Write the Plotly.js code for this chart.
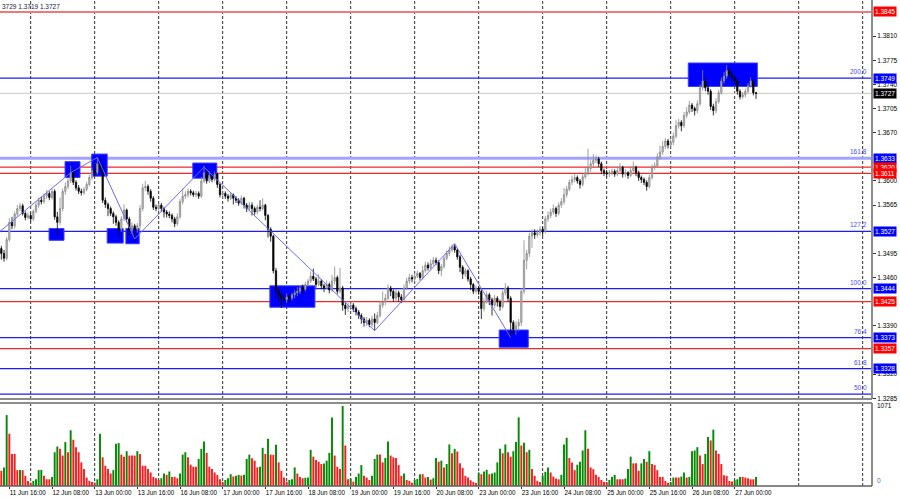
<!DOCTYPE html>
<html><head><meta charset="utf-8">
<script src="https://cdn.plot.ly/plotly-3.0.1.min.js"></script>
<style>html,body{margin:0;padding:0;background:#fff}#chart{width:900px;height:500px}</style>
</head><body><div id="chart"></div>
<script>
// ---- data (hourly bars, index 0 = 11 Jun 13:00) ----
const opens = [1.3502,1.3495,1.3488,1.3515,1.3540,1.3535,1.3552,1.3560,1.3564,1.3553,1.3547,1.3550,
1.3545,1.3556,1.3565,1.3572,1.3570,1.3578,1.3582,1.3576,1.3585,1.3548,1.3540,1.3560,
1.3585,1.3592,1.3600,1.3612,1.3598,1.3590,1.3585,1.3583,1.3588,1.3595,1.3605,1.3615,
1.3612,1.3625,1.3620,1.3572,1.3566,1.3560,1.3553,1.3548,1.3540,1.3530,1.3545,1.3558,
1.3545,1.3528,1.3535,1.3530,1.3535,1.3560,1.3590,1.3592,1.3585,1.3575,1.3562,1.3560,
1.3565,1.3560,1.3555,1.3552,1.3550,1.3545,1.3538,1.3548,1.3570,1.3578,1.3580,1.3585,
1.3583,1.3580,1.3582,1.3578,1.3600,1.3612,1.3600,1.3608,1.3602,1.3610,1.3595,1.3580,
1.3582,1.3578,1.3575,1.3580,1.3575,1.3572,1.3568,1.3575,1.3565,1.3560,1.3565,1.3560,
1.3555,1.3562,1.3560,1.3565,1.3550,1.3530,1.3520,1.3470,1.3440,1.3435,1.3430,1.3428,
1.3432,1.3430,1.3435,1.3438,1.3440,1.3445,1.3443,1.3450,1.3455,1.3462,1.3458,1.3450,
1.3455,1.3448,1.3445,1.3450,1.3442,1.3455,1.3460,1.3440,1.3445,1.3420,1.3415,1.3418,
1.3420,1.3415,1.3410,1.3405,1.3400,1.3395,1.3398,1.3392,1.3400,1.3395,1.3405,1.3420,
1.3425,1.3430,1.3445,1.3440,1.3430,1.3438,1.3432,1.3428,1.3445,1.3455,1.3460,1.3458,
1.3462,1.3466,1.3460,1.3470,1.3478,1.3474,1.3480,1.3485,1.3482,1.3470,1.3476,1.3488,
1.3495,1.3500,1.3505,1.3500,1.3490,1.3475,1.3465,1.3470,1.3458,1.3450,1.3440,1.3445,
1.3440,1.3415,1.3425,1.3435,1.3428,1.3420,1.3430,1.3425,1.3418,1.3438,1.3445,1.3430,
1.3395,1.3385,1.3390,1.3395,1.3440,1.3485,1.3495,1.3520,1.3525,1.3522,1.3525,1.3530,
1.3527,1.3545,1.3550,1.3555,1.3560,1.3553,1.3565,1.3570,1.3580,1.3588,1.3598,1.3602,
1.3605,1.3600,1.3595,1.3606,1.3612,1.3618,1.3625,1.3630,1.3632,1.3625,1.3615,1.3612,
1.3610,1.3612,1.3614,1.3610,1.3615,1.3620,1.3610,1.3612,1.3608,1.3615,1.3620,1.3612,
1.3605,1.3602,1.3598,1.3592,1.3605,1.3620,1.3622,1.3635,1.3642,1.3650,1.3658,1.3652,
1.3656,1.3665,1.3680,1.3685,1.3680,1.3695,1.3700,1.3710,1.3705,1.3702,1.3712,1.3735,
1.3745,1.3735,1.3730,1.3708,1.3702,1.3715,1.3728,1.3745,1.3752,1.3760,1.3755,1.3750,
1.3745,1.3730,1.3722,1.3725,1.3730,1.3738,1.3745,1.3728];
const highs = [1.3506,1.3500,1.3519,1.3546,1.3548,1.3556,1.3565,1.3568,1.3567,1.3556,1.3554,1.3553,
1.3559,1.3569,1.3576,1.3577,1.3582,1.3587,1.3585,1.3589,1.3588,1.3555,1.3576,1.3589,
1.3598,1.3605,1.3622,1.3615,1.3601,1.3594,1.3589,1.3591,1.3599,1.3609,1.3619,1.3625,
1.3634,1.3634,1.3624,1.3576,1.3569,1.3563,1.3556,1.3551,1.3543,1.3549,1.3566,1.3560,
1.3548,1.3540,1.3538,1.3539,1.3565,1.3596,1.3600,1.3595,1.3588,1.3578,1.3566,1.3568,
1.3568,1.3563,1.3558,1.3556,1.3553,1.3548,1.3553,1.3574,1.3589,1.3585,1.3589,1.3588,
1.3586,1.3586,1.3585,1.3606,1.3622,1.3615,1.3614,1.3611,1.3614,1.3612,1.3597,1.3586,
1.3585,1.3581,1.3584,1.3582,1.3578,1.3575,1.3579,1.3577,1.3568,1.3570,1.3569,1.3563,
1.3566,1.3572,1.3575,1.3567,1.3552,1.3533,1.3522,1.3474,1.3444,1.3438,1.3434,1.3437,
1.3435,1.3438,1.3442,1.3446,1.3449,1.3450,1.3454,1.3458,1.3469,1.3473,1.3461,1.3465,
1.3458,1.3451,1.3456,1.3453,1.3464,1.3476,1.3463,1.3474,1.3448,1.3424,1.3423,1.3425,
1.3423,1.3418,1.3413,1.3408,1.3403,1.3403,1.3401,1.3405,1.3408,1.3410,1.3426,1.3440,
1.3436,1.3450,1.3448,1.3443,1.3443,1.3441,1.3436,1.3450,1.3460,1.3465,1.3464,1.3467,
1.3470,1.3468,1.3477,1.3483,1.3482,1.3486,1.3490,1.3489,1.3485,1.3480,1.3492,1.3499,
1.3505,1.3508,1.3509,1.3503,1.3493,1.3478,1.3474,1.3472,1.3461,1.3452,1.3449,1.3447,
1.3443,1.3430,1.3440,1.3438,1.3431,1.3435,1.3433,1.3428,1.3442,1.3452,1.3448,1.3433,
1.3398,1.3397,1.3400,1.3445,1.3514,1.3500,1.3525,1.3530,1.3530,1.3530,1.3534,1.3533,
1.3549,1.3556,1.3560,1.3566,1.3563,1.3569,1.3575,1.3590,1.3593,1.3602,1.3608,1.3610,
1.3608,1.3603,1.3610,1.3620,1.3647,1.3630,1.3639,1.3637,1.3635,1.3628,1.3618,1.3616,
1.3616,1.3618,1.3617,1.3620,1.3626,1.3622,1.3617,1.3614,1.3619,1.3628,1.3622,1.3615,
1.3608,1.3605,1.3601,1.3609,1.3624,1.3627,1.3640,1.3651,1.3658,1.3662,1.3661,1.3660,
1.3670,1.3688,1.3690,1.3688,1.3700,1.3707,1.3716,1.3713,1.3708,1.3717,1.3740,1.3761,
1.3750,1.3739,1.3733,1.3712,1.3720,1.3732,1.3750,1.3758,1.3768,1.3764,1.3759,1.3753,
1.3748,1.3733,1.3729,1.3734,1.3742,1.3750,1.3747,1.3729];
const lows = [1.3486,1.3483,1.3485,1.3512,1.3530,1.3531,1.3548,1.3556,1.3550,1.3543,1.3544,1.3541,
1.3542,1.3553,1.3561,1.3566,1.3567,1.3574,1.3572,1.3573,1.3544,1.3521,1.3536,1.3556,
1.3580,1.3588,1.3597,1.3594,1.3586,1.3581,1.3579,1.3580,1.3585,1.3592,1.3601,1.3607,
1.3609,1.3614,1.3568,1.3561,1.3549,1.3549,1.3538,1.3535,1.3518,1.3526,1.3542,1.3540,
1.3520,1.3523,1.3513,1.3525,1.3531,1.3556,1.3585,1.3580,1.3570,1.3558,1.3556,1.3557,
1.3555,1.3547,1.3547,1.3546,1.3540,1.3533,1.3535,1.3545,1.3566,1.3574,1.3576,1.3579,
1.3577,1.3576,1.3574,1.3575,1.3597,1.3596,1.3597,1.3598,1.3599,1.3590,1.3576,1.3575,
1.3574,1.3570,1.3572,1.3566,1.3568,1.3564,1.3565,1.3560,1.3555,1.3557,1.3550,1.3551,
1.3552,1.3556,1.3557,1.3543,1.3518,1.3512,1.3466,1.3431,1.3425,1.3416,1.3422,1.3423,
1.3424,1.3427,1.3430,1.3433,1.3436,1.3436,1.3440,1.3447,1.3452,1.3455,1.3445,1.3447,
1.3443,1.3439,1.3442,1.3437,1.3439,1.3450,1.3436,1.3437,1.3412,1.3406,1.3410,1.3413,
1.3410,1.3405,1.3400,1.3393,1.3389,1.3390,1.3388,1.3388,1.3383,1.3392,1.3402,1.3416,
1.3420,1.3427,1.3433,1.3425,1.3426,1.3425,1.3423,1.3425,1.3442,1.3451,1.3453,1.3454,
1.3459,1.3456,1.3457,1.3467,1.3470,1.3471,1.3477,1.3478,1.3465,1.3462,1.3473,1.3485,
1.3491,1.3497,1.3496,1.3486,1.3468,1.3458,1.3461,1.3454,1.3442,1.3436,1.3437,1.3435,
1.3400,1.3411,1.3422,1.3420,1.3405,1.3416,1.3418,1.3412,1.3415,1.3434,1.3425,1.3373,
1.3377,1.3377,1.3382,1.3390,1.3436,1.3472,1.3490,1.3503,1.3516,1.3518,1.3521,1.3520,
1.3524,1.3541,1.3546,1.3551,1.3548,1.3550,1.3561,1.3566,1.3576,1.3585,1.3594,1.3598,
1.3596,1.3589,1.3592,1.3603,1.3608,1.3613,1.3621,1.3626,1.3620,1.3610,1.3607,1.3606,
1.3606,1.3608,1.3606,1.3607,1.3612,1.3605,1.3606,1.3603,1.3605,1.3612,1.3607,1.3600,
1.3597,1.3594,1.3586,1.3589,1.3602,1.3616,1.3619,1.3631,1.3638,1.3646,1.3647,1.3648,
1.3652,1.3662,1.3676,1.3672,1.3677,1.3691,1.3697,1.3700,1.3695,1.3698,1.3709,1.3731,
1.3730,1.3725,1.3703,1.3695,1.3698,1.3712,1.3725,1.3741,1.3748,1.3750,1.3745,1.3740,
1.3725,1.3718,1.3719,1.3721,1.3727,1.3735,1.3724,1.3719];
const closes = [1.3495,1.3488,1.3515,1.3540,1.3535,1.3552,1.3560,1.3564,1.3553,1.3547,1.3550,1.3545,
1.3556,1.3565,1.3572,1.3570,1.3578,1.3582,1.3576,1.3585,1.3548,1.3540,1.3560,1.3585,
1.3592,1.3600,1.3612,1.3598,1.3590,1.3585,1.3583,1.3588,1.3595,1.3605,1.3615,1.3612,
1.3625,1.3620,1.3572,1.3566,1.3560,1.3553,1.3548,1.3540,1.3530,1.3545,1.3558,1.3545,
1.3528,1.3535,1.3530,1.3535,1.3560,1.3590,1.3592,1.3585,1.3575,1.3562,1.3560,1.3565,
1.3560,1.3555,1.3552,1.3550,1.3545,1.3538,1.3548,1.3570,1.3578,1.3580,1.3585,1.3583,
1.3580,1.3582,1.3578,1.3600,1.3612,1.3600,1.3608,1.3602,1.3610,1.3595,1.3580,1.3582,
1.3578,1.3575,1.3580,1.3575,1.3572,1.3568,1.3575,1.3565,1.3560,1.3565,1.3560,1.3555,
1.3562,1.3560,1.3565,1.3550,1.3530,1.3520,1.3470,1.3440,1.3435,1.3430,1.3428,1.3432,
1.3430,1.3435,1.3438,1.3440,1.3445,1.3443,1.3450,1.3455,1.3462,1.3458,1.3450,1.3455,
1.3448,1.3445,1.3450,1.3442,1.3455,1.3460,1.3440,1.3445,1.3420,1.3415,1.3418,1.3420,
1.3415,1.3410,1.3405,1.3400,1.3395,1.3398,1.3392,1.3400,1.3395,1.3405,1.3420,1.3425,
1.3430,1.3445,1.3440,1.3430,1.3438,1.3432,1.3428,1.3445,1.3455,1.3460,1.3458,1.3462,
1.3466,1.3460,1.3470,1.3478,1.3474,1.3480,1.3485,1.3482,1.3470,1.3476,1.3488,1.3495,
1.3500,1.3505,1.3500,1.3490,1.3475,1.3465,1.3470,1.3458,1.3450,1.3440,1.3445,1.3440,
1.3415,1.3425,1.3435,1.3428,1.3420,1.3430,1.3425,1.3418,1.3438,1.3445,1.3430,1.3395,
1.3385,1.3390,1.3395,1.3440,1.3485,1.3495,1.3520,1.3525,1.3522,1.3525,1.3530,1.3527,
1.3545,1.3550,1.3555,1.3560,1.3553,1.3565,1.3570,1.3580,1.3588,1.3598,1.3602,1.3605,
1.3600,1.3595,1.3606,1.3612,1.3618,1.3625,1.3630,1.3632,1.3625,1.3615,1.3612,1.3610,
1.3612,1.3614,1.3610,1.3615,1.3620,1.3610,1.3612,1.3608,1.3615,1.3620,1.3612,1.3605,
1.3602,1.3598,1.3592,1.3605,1.3620,1.3622,1.3635,1.3642,1.3650,1.3658,1.3652,1.3656,
1.3665,1.3680,1.3685,1.3680,1.3695,1.3700,1.3710,1.3705,1.3702,1.3712,1.3735,1.3745,
1.3735,1.3730,1.3708,1.3702,1.3715,1.3728,1.3745,1.3752,1.3760,1.3755,1.3750,1.3745,
1.3730,1.3722,1.3725,1.3730,1.3738,1.3745,1.3728,1.3727];
const volumes = [203,249,949,700,429,429,212,215,212,136,68,45,
68,90,212,215,136,90,90,122,452,529,497,407,
588,452,746,619,520,452,316,226,113,68,54,45,
90,700,384,271,226,167,212,565,574,420,393,466,
407,407,407,466,429,271,271,226,181,122,104,81,
104,167,149,194,122,122,104,167,420,452,384,285,
258,258,362,497,597,443,258,226,181,149,90,54,
81,104,158,127,136,149,140,150,362,420,371,339,
249,258,511,429,633,420,416,551,316,203,113,59,
81,90,249,167,122,104,110,113,484,393,348,325,
294,300,339,443,918,407,258,226,1071,542,90,99,
59,122,167,280,136,113,81,136,362,420,420,316,
375,597,407,384,375,280,136,167,81,68,45,77,
95,158,158,113,122,86,104,375,325,339,249,294,
556,438,497,461,303,240,136,113,77,54,41,181,
158,194,217,158,167,181,316,497,438,556,452,393,
466,588,918,542,579,452,484,226,136,68,54,136,
190,249,181,127,99,90,149,556,646,375,316,212,
285,325,475,746,497,249,226,149,122,81,54,54,
81,122,149,90,90,90,99,226,393,303,303,203,
303,362,325,466,294,280,212,122,122,68,45,54,
113,113,113,127,181,113,122,466,475,520,407,294,
429,655,610,755,475,429,294,145,136,68,59,77,
90,122,122,113,104,90,90,122];

// time axis labels (every 16 bars) and day separators (00:00 bars)
const tickIdx  = [3,19,35,51,67,83,99,115,131,147,163,179,195,211,227,243,259,275];
const tickText = ['11 Jun 16:00','12 Jun 08:00','13 Jun 00:00','13 Jun 16:00','16 Jun 08:00','17 Jun 00:00',
 '17 Jun 16:00','18 Jun 08:00','19 Jun 00:00','19 Jun 16:00','20 Jun 08:00','23 Jun 00:00','23 Jun 16:00',
 '24 Jun 08:00','25 Jun 00:00','25 Jun 16:00','26 Jun 08:00','27 Jun 00:00'];
const dayIdx = [11,35,59,83,107,131,155,179,203,227,251,275,299,323];
const priceTicks = [1.3810,1.3775,1.3740,1.3705,1.3670,1.3600,1.3565,1.3495,1.3460,1.3390,1.3320,1.3285];

// Fibonacci levels, support/resistance levels, current price
const fibPrices = [1.3749,1.3633,1.3527,1.3444,1.3373,1.3328,1.3291];
const fibLabels = ['200.0','161.8','127.2','100.0','76.4','61.8','50.0'];
const redPrices = [1.3845,1.3620,1.3611,1.3425,1.3357];
const lastPrice = 1.3727;

// zigzag pivots
const zzIdx   = [-0.5,26,36,50,76,140,170,191];
const zzPrice = [1.3527,1.3612,1.3634,1.3516,1.3620,1.3383,1.3509,1.3373];

// highlighted zones (bar index span, price span)
const zoneX0 = [23.9,33.9,71.8,17.9,39.7,46.7,100.7,186.7,257.6];
const zoneX1 = [29.5,39.7,80.8,23.5,45.7,51.7,117.6,197.6,283.5];
const zoneHi = [1.3628,1.3639,1.3626,1.3531,1.3531,1.3531,1.3448,1.3384,1.3771];
const zoneLo = [1.3605,1.3607,1.3604,1.3514,1.3510,1.3509,1.3417,1.3359,1.3737];

// ---- build ----
const idx = closes.map((_, i) => i);
const volColors = volumes.map((v, i) => (i > 0 && v > volumes[i-1]) ? '#008a00' : '#ff1a1a');
const FONT = 'Liberation Sans, Arial, sans-serif';
const fmt = p => p.toFixed(4);
const mainBottom = (486-399)/486, volTop = (486-403)/486;

const traces = [
  {type:'candlestick', x: idx, open: opens, high: highs, low: lows, close: closes,
   xaxis:'x', yaxis:'y', whiskerwidth: 0, hoverinfo:'skip',
   increasing:{line:{color:'#8a8a8a', width:0.8}, fillcolor:'#c4c4c4'},
   decreasing:{line:{color:'#000000', width:0.8}, fillcolor:'#000000'}},
  {type:'scatter', mode:'lines', x: zzIdx, y: zzPrice, xaxis:'x', yaxis:'y',
   line:{color:'#6b6bff', width:1}, hoverinfo:'skip'},
  {type:'bar', x: idx, y: volumes, xaxis:'x', yaxis:'y2', width: 0.72,
   marker:{color: volColors, line:{width:0}}, hoverinfo:'skip'}
];

const shapes = [];
dayIdx.forEach(d => {
  shapes.push({type:'line', layer:'below', xref:'x', yref:'paper', x0:d, x1:d, y0:mainBottom, y1:1,
    line:{color:'#303030', width:1, dash:'3px,2px'}});
  shapes.push({type:'line', layer:'below', xref:'x', yref:'paper', x0:d, x1:d, y0:0, y1:volTop,
    line:{color:'#303030', width:1, dash:'3px,2px'}});
});
zoneX0.forEach((x0, k) => {
  shapes.push({type:'rect', layer:'below', xref:'x', yref:'y', x0:x0, x1:zoneX1[k], y0:zoneLo[k], y1:zoneHi[k],
    fillcolor:'#0000ff', line:{color:'#3a3aff', width:1}});
});
fibPrices.forEach((p, k) => {
  const thick = fibLabels[k] === '161.8';
  shapes.push({type:'line', layer:'below', xref:'paper', yref:'y', x0:0, x1:1, y0:p, y1:p,
    line:{color: thick ? '#a3a3ff' : '#1c1cff', width: thick ? 3 : 1.2}});
});
redPrices.forEach((p, k) => {
  shapes.push({type:'line', layer:'below', xref:'paper', yref:'y', x0:0, x1:1, y0:p, y1:p,
    line:{color: k === 0 ? '#f07a7a' : '#f02828', width: k === 0 ? 2 : 1.2}});
});
shapes.push({type:'line', layer:'below', xref:'paper', yref:'y', x0:0, x1:1, y0:lastPrice, y1:lastPrice,
  line:{color:'#c8c8c8', width:1}});
// panel frames
const frame = '#8c8c8c';
shapes.push({type:'line', xref:'paper', yref:'paper', x0:1, x1:1, y0:mainBottom, y1:1, line:{color:frame, width:2}});
shapes.push({type:'line', xref:'paper', yref:'paper', x0:0, x1:1, y0:mainBottom, y1:mainBottom, line:{color:frame, width:2}});
shapes.push({type:'line', xref:'paper', yref:'paper', x0:0, x1:1, y0:volTop, y1:volTop, line:{color:frame, width:2}});
shapes.push({type:'line', xref:'paper', yref:'paper', x0:1, x1:1, y0:0, y1:volTop, line:{color:frame, width:2}});
shapes.push({type:'line', xref:'paper', yref:'paper', x0:0, x1:1, y0:0, y1:0, line:{color:'#606060', width:1.5}});

const ann = [];
function box(p, bg) {
  ann.push({xref:'paper', yref:'y', x:1, y:p, xanchor:'left', yanchor:'middle', xshift:1, showarrow:false,
    text: fmt(p), bgcolor: bg, borderpad:1, font:{family:FONT, size:6.5, color:'#ffffff'}});
}
fibPrices.forEach((p, k) => {
  ann.push({xref:'paper', yref:'y', x:1, y:p, xanchor:'right', yanchor:'bottom', xshift:-3, yshift:1, showarrow:false,
    text: fibLabels[k], font:{family:FONT, size:6.5, color:'#4a4aff'}});
  if (fibLabels[k] !== '50.0') box(p, '#0000ff');
});
redPrices.forEach(p => box(p, '#ff0000'));
box(lastPrice, '#000000');
ann.push({xref:'paper', yref:'paper', x:0, y:1, xanchor:'left', yanchor:'top', yshift:-1, showarrow:false,
  text:'3729 1.3719 1.3727', font:{family:FONT, size:6.5, color:'#1a1a3a'}});
ann.push({xref:'paper', yref:'y2', x:1, y:1071, xanchor:'left', yanchor:'middle', xshift:3, showarrow:false,
  text:'1071', font:{family:FONT, size:6.5, color:'#000'}});
ann.push({xref:'paper', yref:'y2', x:1, y:0, xanchor:'left', yanchor:'bottom', xshift:3, showarrow:false,
  text:'0', font:{family:FONT, size:6.5, color:'#3a6fd0'}});

const layout = {
  width:900, height:500, margin:{l:0, r:28, t:0, b:14},
  paper_bgcolor:'#ffffff', plot_bgcolor:'#ffffff', showlegend:false,
  font:{family:FONT, size:6.5, color:'#000'},
  xaxis:{anchor:'y2', range:[-0.5, 326.5], showgrid:false, zeroline:false, showline:false,
    tickvals: tickIdx, ticktext: tickText, tickangle:0, ticks:'outside', ticklen:2, tickcolor:'#333',
    ticklabelposition:'outside right', tickfont:{family:FONT, size:6.3, color:'#000'},
    rangeslider:{visible:false}, fixedrange:true, automargin:false},
  yaxis:{domain:[mainBottom, 1], range:[1.3284, 1.38623], side:'right', anchor:'x',
    showgrid:false, zeroline:false, showline:false,
    tickvals: priceTicks, ticktext: priceTicks.map(fmt), ticks:'outside', ticklen:3, tickcolor:'#333',
    tickfont:{family:FONT, size:6.5, color:'#000'}, fixedrange:true, automargin:false},
  yaxis2:{domain:[0, volTop], range:[0, 1111], anchor:'x', side:'right', showgrid:false, zeroline:false,
    showticklabels:false, ticks:'', showline:false, fixedrange:true},
  shapes: shapes, annotations: ann
};
Plotly.newPlot('chart', traces, layout, {displayModeBar:false, staticPlot:true});
</script></body></html>
